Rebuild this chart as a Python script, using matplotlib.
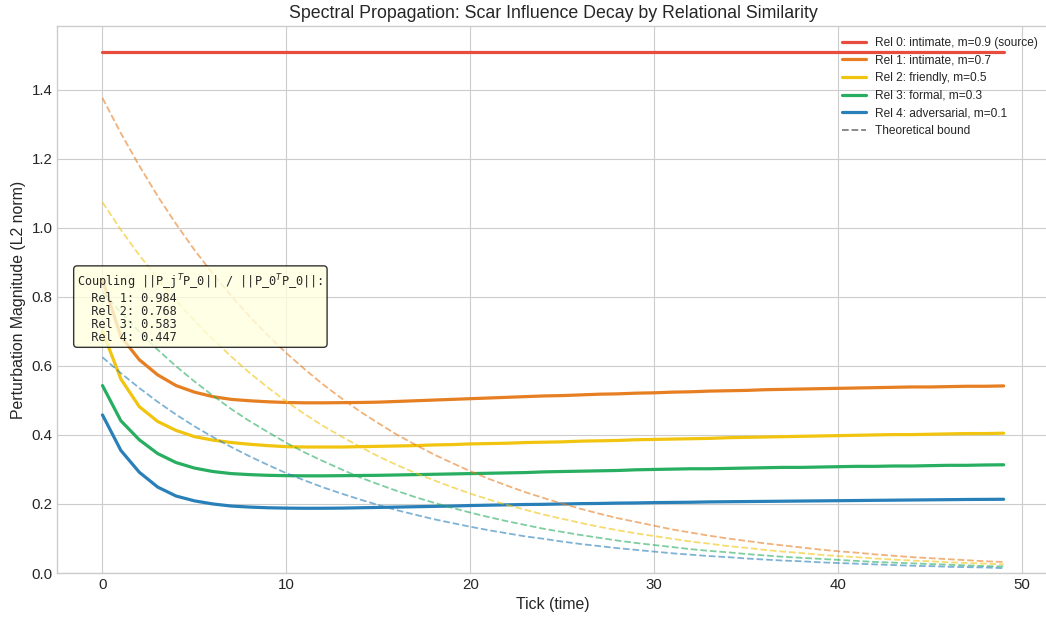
#!/usr/bin/env python3
"""
Propagation spectrale : décroissance de l'influence d'une cicatrice
selon la similarité relationnelle.
"""
import numpy as np
import matplotlib
matplotlib.use("Agg")
import matplotlib.pyplot as plt

plt.style.use("seaborn-v0_8-whitegrid")
plt.rcParams["font.family"] = ["Liberation Sans", "DejaVu Sans"]

ticks = np.arange(50)

labels = [
    "Rel 0: intimate, m=0.9 (source)",
    "Rel 1: intimate, m=0.7",
    "Rel 2: friendly, m=0.5",
    "Rel 3: formal, m=0.3",
    "Rel 4: adversarial, m=0.1",
]
colors = ["#e74c3c", "#e67e22", "#f1c40f", "#27ae60", "#2980b9"]
coupling = [0.984, 0.768, 0.583, 0.447]

# Magnitudes observées (norme L2), une valeur par tick
rel0 = [1.51] * 50
rel1 = [0.850, 0.685, 0.618, 0.574, 0.543, 0.524, 0.511, 0.503, 0.499, 0.496,
        0.494, 0.493, 0.493, 0.4935, 0.494, 0.495, 0.497, 0.499, 0.501, 0.503,
        0.505, 0.507, 0.509, 0.511, 0.513, 0.514, 0.516, 0.518, 0.519, 0.521,
        0.522, 0.524, 0.525, 0.527, 0.528, 0.529, 0.531, 0.532, 0.533, 0.534,
        0.535, 0.536, 0.537, 0.538, 0.539, 0.539, 0.540, 0.541, 0.541, 0.542]
rel2 = [0.700, 0.562, 0.482, 0.439, 0.413, 0.395, 0.385, 0.378, 0.373, 0.369,
        0.366, 0.365, 0.365, 0.365, 0.366, 0.367, 0.368, 0.369, 0.371, 0.372,
        0.374, 0.375, 0.376, 0.378, 0.379, 0.380, 0.382, 0.383, 0.384, 0.386,
        0.387, 0.388, 0.389, 0.390, 0.392, 0.393, 0.394, 0.395, 0.396, 0.397,
        0.398, 0.399, 0.400, 0.401, 0.401, 0.402, 0.403, 0.404, 0.404, 0.405]
rel3 = [0.543, 0.441, 0.386, 0.346, 0.320, 0.304, 0.294, 0.288, 0.285, 0.283,
        0.282, 0.2815, 0.2815, 0.282, 0.2825, 0.283, 0.284, 0.285, 0.286, 0.287,
        0.288, 0.289, 0.290, 0.291, 0.293, 0.294, 0.295, 0.296, 0.297, 0.299,
        0.300, 0.301, 0.302, 0.302, 0.303, 0.304, 0.305, 0.306, 0.306, 0.307,
        0.308, 0.309, 0.309, 0.310, 0.310, 0.311, 0.312, 0.312, 0.313, 0.3135]
rel4 = [0.458, 0.355, 0.292, 0.249, 0.223, 0.209, 0.200, 0.194, 0.191, 0.189,
        0.188, 0.1875, 0.1876, 0.188, 0.189, 0.190, 0.191, 0.192, 0.193, 0.194,
        0.1955, 0.1965, 0.1975, 0.1985, 0.199, 0.200, 0.201, 0.2015, 0.2025, 0.203,
        0.204, 0.2045, 0.205, 0.206, 0.2065, 0.207, 0.2075, 0.208, 0.2085, 0.209,
        0.2095, 0.210, 0.2105, 0.211, 0.2115, 0.212, 0.2125, 0.213, 0.2133, 0.2136]

# Bornes théoriques (tirets)
bound1 = [1.376, 1.274, 1.180, 1.092, 1.011, 0.936, 0.867, 0.803, 0.743, 0.688,
          0.637, 0.590, 0.546, 0.506, 0.468, 0.434, 0.401, 0.372, 0.344, 0.319,
          0.295, 0.273, 0.253, 0.234, 0.217, 0.201, 0.186, 0.172, 0.159, 0.148,
          0.137, 0.126, 0.117, 0.108, 0.100, 0.093, 0.086, 0.080, 0.074, 0.068,
          0.063, 0.059, 0.054, 0.050, 0.046, 0.043, 0.040, 0.037, 0.034, 0.032]
bound2 = [1.074, 0.994, 0.921, 0.853, 0.789, 0.731, 0.677, 0.627, 0.580, 0.537,
          0.497, 0.460, 0.426, 0.395, 0.366, 0.338, 0.313, 0.290, 0.269, 0.249,
          0.230, 0.213, 0.197, 0.183, 0.169, 0.157, 0.145, 0.134, 0.124, 0.115,
          0.107, 0.099, 0.091, 0.085, 0.078, 0.073, 0.067, 0.062, 0.058, 0.053,
          0.049, 0.046, 0.042, 0.039, 0.036, 0.034, 0.031, 0.029, 0.027, 0.025]
bound3 = [0.815, 0.755, 0.699, 0.647, 0.599, 0.555, 0.514, 0.475, 0.440, 0.408,
          0.377, 0.349, 0.324, 0.300, 0.277, 0.257, 0.238, 0.220, 0.204, 0.189,
          0.175, 0.162, 0.150, 0.139, 0.128, 0.119, 0.110, 0.102, 0.094, 0.087,
          0.081, 0.075, 0.069, 0.064, 0.060, 0.055, 0.051, 0.047, 0.044, 0.041,
          0.038, 0.035, 0.032, 0.030, 0.028, 0.026, 0.024, 0.022, 0.020, 0.019]
bound4 = [0.625, 0.579, 0.536, 0.496, 0.459, 0.425, 0.394, 0.365, 0.338, 0.313,
          0.289, 0.268, 0.248, 0.230, 0.213, 0.197, 0.182, 0.169, 0.156, 0.145,
          0.134, 0.124, 0.115, 0.106, 0.099, 0.091, 0.084, 0.078, 0.072, 0.067,
          0.062, 0.057, 0.053, 0.049, 0.046, 0.042, 0.039, 0.036, 0.034, 0.031,
          0.029, 0.027, 0.025, 0.023, 0.021, 0.020, 0.018, 0.017, 0.016, 0.014]


def main():
    fig = plt.figure(figsize=(10.46, 6.2), dpi=100)
    ax = fig.add_axes([0.0549, 0.0758, 0.9477, 0.8823])

    series = [rel0, rel1, rel2, rel3, rel4]
    bounds = [bound1, bound2, bound3, bound4]

    for vals, lab, col in zip(series, labels, colors):
        ax.plot(ticks, vals, color=col, lw=2.3, label=lab)
    for i, b in enumerate(bounds):
        ax.plot(ticks, b, color=colors[i + 1], lw=1.3, ls="--", alpha=0.6,
                label="Theoretical bound" if i == 0 else None)

    # handle gris pour la borne théorique dans la légende
    handles, labs = ax.get_legend_handles_labels()
    handles[-1] = plt.Line2D([], [], color="gray", lw=1.3, ls="--")

    ax.set_ylim(bottom=0)
    ax.set_title("Spectral Propagation: Scar Influence Decay by Relational Similarity",
                 fontsize=12.8, color="0.15")
    ax.set_xlabel("Tick (time)", fontsize=11.4, color="0.15")
    ax.set_ylabel("Perturbation Magnitude (L2 norm)", fontsize=11.4, color="0.15")
    ax.tick_params(labelsize=10.8, colors="0.15")
    ax.legend(handles, labs, loc="upper right", fontsize=8.6, frameon=False,
              labelspacing=0.48)

    txt = "Coupling ||P_j$^T$P_0|| / ||P_0$^T$P_0||:\n" + "\n".join(
        f"  Rel {i + 1}: {c:.3f}" for i, c in enumerate(coupling))
    ax.text(0.02, 0.55, txt, transform=ax.transAxes, va="top", ha="left",
            fontsize=8.6, family="DejaVu Sans Mono", linespacing=1.0,
            bbox=dict(boxstyle="round", facecolor="lightyellow", alpha=0.8))

    fig.savefig("out.png", dpi=100)


if __name__ == "__main__":
    main()
